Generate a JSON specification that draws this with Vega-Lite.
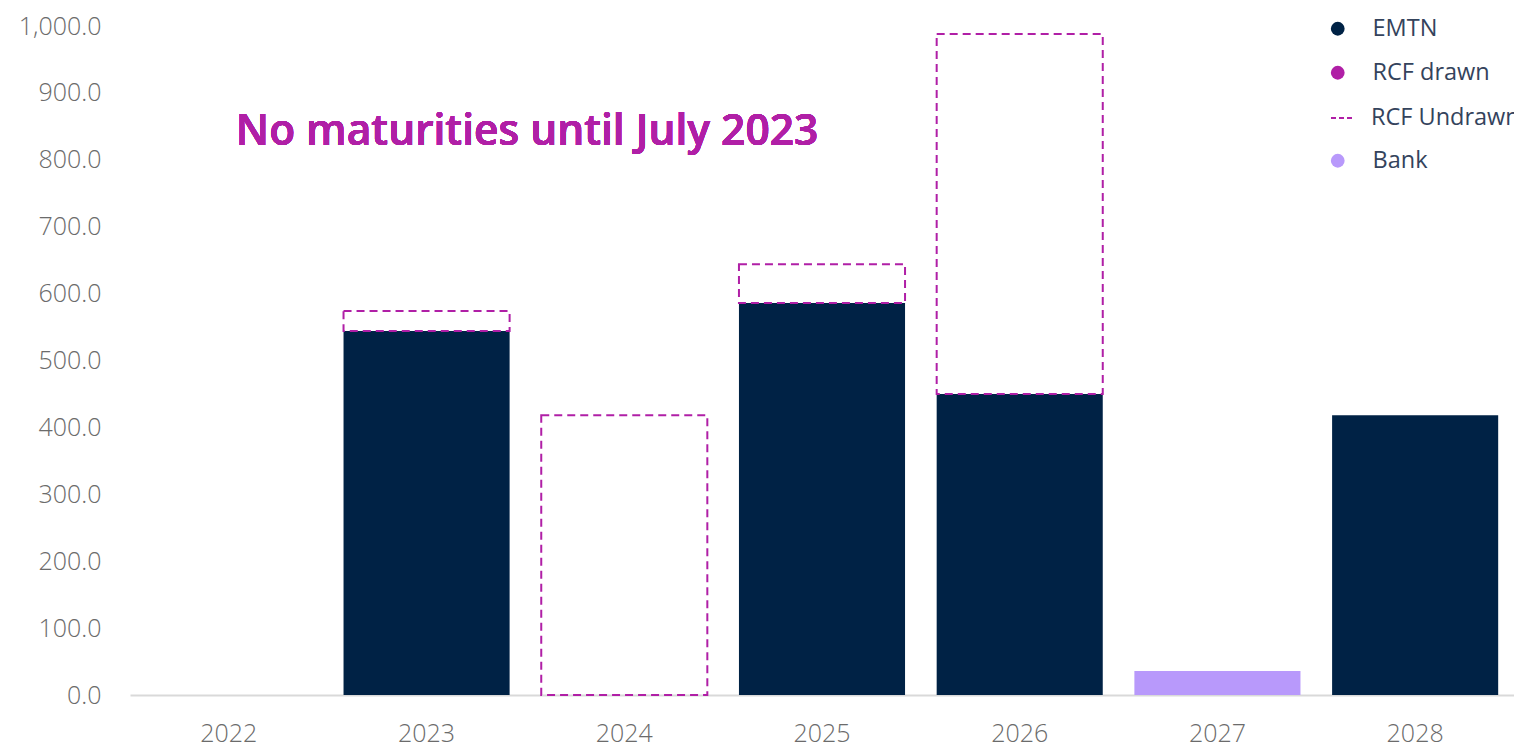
{
  "$schema": "https://vega.github.io/schema/vega-lite/v6.json",
  "autosize": "none",
  "width": 1384,
  "height": 669,
  "padding": {"left": 130, "top": 26, "right": 0, "bottom": 52},
  "background": "white",
  "config": {
    "view": {"stroke": null},
    "font": "Open Sans"
  },
  "data": {
    "values": [
      {"year": "2022", "series": "EMTN", "lo": 0, "hi": 0},
      {"year": "2023", "series": "EMTN", "lo": 0, "hi": 544},
      {"year": "2023", "series": "RCF Undrawn", "lo": 544, "hi": 574},
      {"year": "2024", "series": "RCF Undrawn", "lo": 0, "hi": 418},
      {"year": "2025", "series": "EMTN", "lo": 0, "hi": 586},
      {"year": "2025", "series": "RCF Undrawn", "lo": 586, "hi": 644},
      {"year": "2026", "series": "EMTN", "lo": 0, "hi": 450},
      {"year": "2026", "series": "RCF Undrawn", "lo": 450, "hi": 988},
      {"year": "2027", "series": "Bank", "lo": 0, "hi": 36},
      {"year": "2028", "series": "EMTN", "lo": 0, "hi": 418}
    ]
  },
  "encoding": {
    "x": {
      "field": "year",
      "type": "ordinal",
      "scale": {"paddingInner": 0.16, "paddingOuter": 0.08},
      "axis": {
        "title": null,
        "labelAngle": 0,
        "ticks": false,
        "labelPadding": 26,
        "labelFontSize": 25,
        "labelFontWeight": 300,
        "labelColor": "#6b6b6b",
        "domainColor": "#d9d9d9",
        "domainWidth": 2,
        "grid": false
      }
    }
  },
  "layer": [
    {
      "transform": [{"filter": "datum.series !== 'RCF Undrawn'"}],
      "mark": {"type": "bar", "opacity": 1},
      "encoding": {
        "y": {
          "field": "lo",
          "type": "quantitative",
          "scale": {"domain": [0, 1000], "nice": false},
          "axis": {
            "title": null,
            "values": [0, 100, 200, 300, 400, 500, 600, 700, 800, 900, 1000],
            "format": ",.1f",
            "grid": false,
            "domain": false,
            "ticks": false,
            "labelPadding": 29,
            "labelFontSize": 25,
            "labelFontWeight": 300,
            "labelColor": "#6b6b6b"
          }
        },
        "y2": {"field": "hi"},
        "color": {
          "field": "series",
          "type": "nominal",
          "scale": {
            "domain": ["EMTN", "RCF drawn", "RCF Undrawn", "Bank"],
            "range": ["#002245", "#b01fa6", "transparent", "#b899fb"]
          },
          "legend": {
            "title": null,
            "orient": "none",
            "legendX": 1196,
            "legendY": -9,
            "labelFontSize": 23.5,
            "labelColor": "#34435c",
            "labelLimit": 400,
            "rowPadding": 19,
            "labelOffset": 23,
            "symbolType": "circle",
            "symbolSize": 190,
            "symbolOpacity": 1,
            "labelExpr": "datum.label === 'RCF Undrawn' ? '' : datum.label"
          }
        }
      }
    },
    {
      "transform": [{"filter": "datum.series === 'RCF Undrawn'"}],
      "mark": {
        "type": "bar",
        "fill": "transparent",
        "strokeWidth": 2,
        "strokeDash": [8, 5],
        "opacity": 1
      },
      "encoding": {
        "y": {"field": "lo", "type": "quantitative"},
        "y2": {"field": "hi"},
        "stroke": {
          "field": "series",
          "type": "nominal",
          "scale": {"domain": ["RCF Undrawn"], "range": ["#b01fa6"]},
          "legend": {
            "title": null,
            "orient": "none",
            "legendX": 1200,
            "legendY": 80,
            "labelFontSize": 23.5,
            "labelColor": "#34435c",
            "labelLimit": 400,
            "labelOffset": 17,
            "symbolType": "stroke",
            "symbolSize": 484,
            "symbolStrokeWidth": 2,
            "symbolDash": [5, 3],
            "symbolOpacity": 1
          }
        }
      }
    },
    {
      "mark": {
        "type": "text",
        "align": "left",
        "baseline": "middle",
        "dx": 7,
        "dy": 2,
        "fontSize": 42.5,
        "fontWeight": 600,
        "color": "#b01fa6",
        "font": "Open Sans"
      },
      "encoding": {
        "x": {"datum": "2022"},
        "y": {"datum": 845},
        "text": {"value": "No maturities until July 2023"}
      }
    }
  ]
}
